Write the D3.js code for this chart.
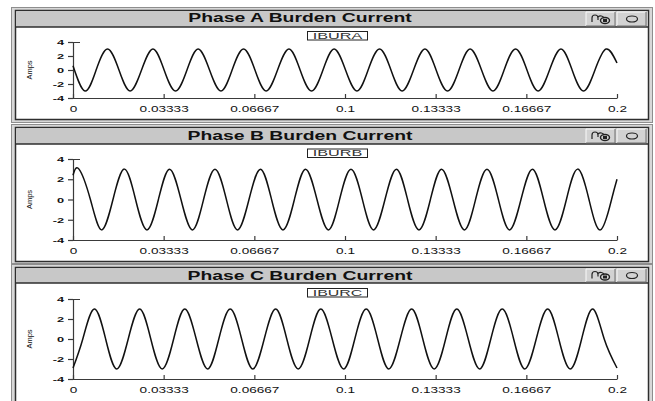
<!DOCTYPE html>
<html>
<head>
<meta charset="utf-8">
<title>Burden Current</title>
<script src="https://cdn.jsdelivr.net/npm/d3@7"></script>
<style>
  body { margin: 0; background: #fff; }
  svg { display: block; font-family: "Liberation Sans", Arial, sans-serif; }
</style>
</head>
<body>
<div id="chart"></div>
<script>
// titles, legend names and ticks
var titles = ["Phase A Burden Current", "Phase B Burden Current", "Phase C Burden Current"];
var legends = ["IBURA", "IBURB", "IBURC"];
var xTicks = [0, 0.03333, 0.06667, 0.1, 0.13333, 0.16667, 0.2];
var xTickLabels = ["0", "0.03333", "0.06667", "0.1", "0.13333", "0.16667", "0.2"];
var yTicks = [4, 2, 0, -2, -4];

// times (s) of ends, peaks, troughs and zero crossings, and the amps there
var timeA = [0, 0.0044, 0.0085, 0.0127, 0.0169, 0.0210, 0.0252, 0.0294, 0.0335, 0.0377, 0.0419, 0.0460,
  0.0502, 0.0544, 0.0585, 0.0627, 0.0669, 0.0710, 0.0752, 0.0794, 0.0835, 0.0877, 0.0919, 0.0960,
  0.1002, 0.1044, 0.1085, 0.1127, 0.1169, 0.1210, 0.1252, 0.1294, 0.1335, 0.1377, 0.1419, 0.1460,
  0.1502, 0.1544, 0.1585, 0.1627, 0.1669, 0.1710, 0.1752, 0.1794, 0.1835, 0.1877, 0.1919, 0.1960, 0.2];
var ampsA = [0.6, -3, 0, 3, 0, -3, 0, 3, 0, -3, 0, 3,
  0, -3, 0, 3, 0, -3, 0, 3, 0, -3, 0, 3,
  0, -3, 0, 3, 0, -3, 0, 3, 0, -3, 0, 3,
  0, -3, 0, 3, 0, -3, 0, 3, 0, -3, 0, 3, 1.0];

var timeB = [0, 0.0022, 0.0064, 0.0105, 0.0147, 0.0189, 0.0230, 0.0272, 0.0314, 0.0355, 0.0397, 0.0439,
  0.0480, 0.0522, 0.0564, 0.0605, 0.0647, 0.0689, 0.0730, 0.0772, 0.0814, 0.0855, 0.0897, 0.0939,
  0.0980, 0.1022, 0.1064, 0.1105, 0.1147, 0.1189, 0.1230, 0.1272, 0.1314, 0.1355, 0.1397, 0.1439,
  0.1480, 0.1522, 0.1564, 0.1605, 0.1647, 0.1689, 0.1730, 0.1772, 0.1814, 0.1855, 0.1897, 0.1939, 0.1980, 0.2];
var ampsB = [2.4, 3, 0, -3, 0, 3, 0, -3, 0, 3, 0, -3,
  0, 3, 0, -3, 0, 3, 0, -3, 0, 3, 0, -3,
  0, 3, 0, -3, 0, 3, 0, -3, 0, 3, 0, -3,
  0, 3, 0, -3, 0, 3, 0, -3, 0, 3, 0, -3, 0, 2.0];

var timeC = [0, 0.0036, 0.0078, 0.0120, 0.0161, 0.0203, 0.0245, 0.0286, 0.0328, 0.0370, 0.0411, 0.0453,
  0.0495, 0.0536, 0.0578, 0.0620, 0.0661, 0.0703, 0.0745, 0.0786, 0.0828, 0.0870, 0.0911, 0.0953,
  0.0995, 0.1036, 0.1078, 0.1120, 0.1161, 0.1203, 0.1245, 0.1286, 0.1328, 0.1370, 0.1411, 0.1453,
  0.1495, 0.1536, 0.1578, 0.1620, 0.1661, 0.1703, 0.1745, 0.1786, 0.1828, 0.1870, 0.1911, 0.1953, 0.2];
var ampsC = [-2.9, 0, 3, 0, -3, 0, 3, 0, -3, 0, 3, 0,
  -3, 0, 3, 0, -3, 0, 3, 0, -3, 0, 3, 0,
  -3, 0, 3, 0, -3, 0, 3, 0, -3, 0, 3, 0,
  -3, 0, 3, 0, -3, 0, 3, 0, -3, 0, 3, 0, -2.9];

var series = [d3.zip(timeA, ampsA), d3.zip(timeB, ampsB), d3.zip(timeC, ampsC)];

// window layout (pixels)
var frames = [
  {outerY: 7,   outerH: 115, innerY: 10.5,  innerH: 109, barH: 16.5, plotTop: 42,  plotBottom: 98,  legendY: 31,    titleY: 22},
  {outerY: 124, outerH: 139, innerY: 127.5, innerH: 134, barH: 16.5, plotTop: 159, plotBottom: 240, legendY: 148.5, titleY: 140},
  {outerY: 264, outerH: 140, innerY: 267.5, innerH: 140, barH: 15.5, plotTop: 299, plotBottom: 379, legendY: 288,   titleY: 280}
];

var W = 655, H = 401;
var SX = 1.6; // the screenshot is stretched sideways, so is the text

var svg = d3.select("#chart").append("svg")
  .attr("width", W)
  .attr("height", H);

var x = d3.scaleLinear().domain([0, 0.2]).range([73, 617]);

frames.forEach(function(f, i) {
  var g = svg.append("g");

  // window frame
  g.append("rect")
    .attr("x", 11.5).attr("y", f.outerY + 0.5)
    .attr("width", 641).attr("height", f.outerH)
    .attr("fill", "#d8d8d8").attr("stroke", "#8e8e8e");
  g.append("rect")
    .attr("x", 15.5).attr("y", f.innerY)
    .attr("width", 633).attr("height", f.innerH)
    .attr("fill", "#fff").attr("stroke", "#2e2e2e").attr("stroke-width", 1.5);

  // title bar
  g.append("rect")
    .attr("x", 16.25).attr("y", f.innerY + 0.75)
    .attr("width", 631.5).attr("height", f.barH - 0.75)
    .attr("fill", "#c8c8c8");
  g.append("line")
    .attr("x1", 15.5).attr("x2", 648.5)
    .attr("y1", f.innerY + f.barH).attr("y2", f.innerY + f.barH)
    .attr("stroke", "#2e2e2e").attr("stroke-width", 1.5);
  g.append("text")
    .attr("transform", "translate(300," + f.titleY + ") scale(1.55,1)")
    .attr("text-anchor", "middle")
    .style("font-size", "12.5px")
    .style("font-weight", "bold")
    .style("fill", "#111")
    .text(titles[i]);

  // the two buttons on the right of the bar
  var by = f.innerY + 1.5, bh = f.barH - 2.5;
  [586, 617].forEach(function(bx) {
    g.append("rect").attr("x", bx).attr("y", by).attr("width", 29).attr("height", bh)
      .attr("fill", "#d2d2d2");
    g.append("path")
      .attr("d", "M" + bx + "," + (by + bh) + "V" + by + "H" + (bx + 29))
      .attr("fill", "none").attr("stroke", "#fafafa");
    g.append("path")
      .attr("d", "M" + (bx + 29) + "," + by + "V" + (by + bh) + "H" + bx)
      .attr("fill", "none").attr("stroke", "#707070");
  });
  var cy = by + bh / 2;
  g.append("path")
    .attr("d", "M592," + (cy + 3) + "V" + (cy - 1) + "A3,3 0 0 1 598," + (cy - 1) + "V" + (cy + 1) +
      "M598," + (cy - 2) + "A3.5,3 0 0 1 604," + (cy - 1))
    .attr("fill", "none").attr("stroke", "#222").attr("stroke-width", 1.2);
  g.append("ellipse").attr("cx", 605).attr("cy", cy + 1.5).attr("rx", 4.5).attr("ry", 3)
    .attr("fill", "none").attr("stroke", "#222").attr("stroke-width", 1.4);
  g.append("rect").attr("x", 603).attr("y", cy).attr("width", 4).attr("height", 3).attr("fill", "#222");
  g.append("ellipse").attr("cx", 632).attr("cy", cy).attr("rx", 5.5).attr("ry", 3)
    .attr("fill", "none").attr("stroke", "#222").attr("stroke-width", 1.2);

  // legend box
  g.append("rect")
    .attr("x", 307.5).attr("y", f.legendY + 0.5)
    .attr("width", 60).attr("height", 8.5)
    .attr("fill", "#fff").attr("stroke", "#222");
  g.append("text")
    .attr("transform", "translate(337.5," + (f.legendY + 7.6) + ") scale(" + SX + ",1)")
    .attr("text-anchor", "middle")
    .attr("textLength", 31)
    .attr("lengthAdjust", "spacingAndGlyphs")
    .style("font-size", "9px")
    .style("fill", "#333")
    .text(legends[i]);

  // plot
  var y = d3.scaleLinear().domain([-4, 4]).range([f.plotBottom, f.plotTop]);

  var xAxis = g.append("g")
    .attr("transform", "translate(0," + f.plotBottom + ")")
    .call(d3.axisBottom(x)
      .tickValues(xTicks)
      .tickFormat(function(d, k) { return xTickLabels[k]; })
      .tickSizeInner(-4)
      .tickSizeOuter(0)
      .tickPadding(8));
  xAxis.selectAll("text")
    .attr("transform", "scale(" + SX + ",1)")
    .style("font-size", "8.5px")
    .style("fill", "#111");

  var yAxis = g.append("g")
    .attr("transform", "translate(73,0)")
    .call(d3.axisLeft(y)
      .tickValues(yTicks)
      .tickFormat(function(d) { return String(d); })
      .tickSizeInner(5)
      .tickSizeOuter(-7)
      .tickPadding(4));
  yAxis.selectAll("text")
    .attr("x", -9 / SX)
    .attr("transform", "scale(" + SX + ",1)")
    .style("font-size", "8px")
    .style("font-weight", "bold")
    .style("fill", "#111");

  g.selectAll(".domain, .tick line")
    .attr("stroke", "#3a3a3a")
    .attr("stroke-width", 1.2);

  g.append("text")
    .attr("transform", "translate(32," + ((f.plotTop + f.plotBottom) / 2) + ") rotate(-90)")
    .attr("text-anchor", "middle")
    .style("font-size", "7.5px")
    .style("fill", "#111")
    .text("Amps");

  var line = d3.line()
    .x(function(d) { return x(d[0]); })
    .y(function(d) { return y(d[1]); })
    .curve(d3.curveNatural);

  g.append("path")
    .datum(series[i])
    .attr("d", line)
    .attr("fill", "none")
    .attr("stroke", "#111")
    .attr("stroke-width", 1.5);
});
</script>
</body>
</html>
